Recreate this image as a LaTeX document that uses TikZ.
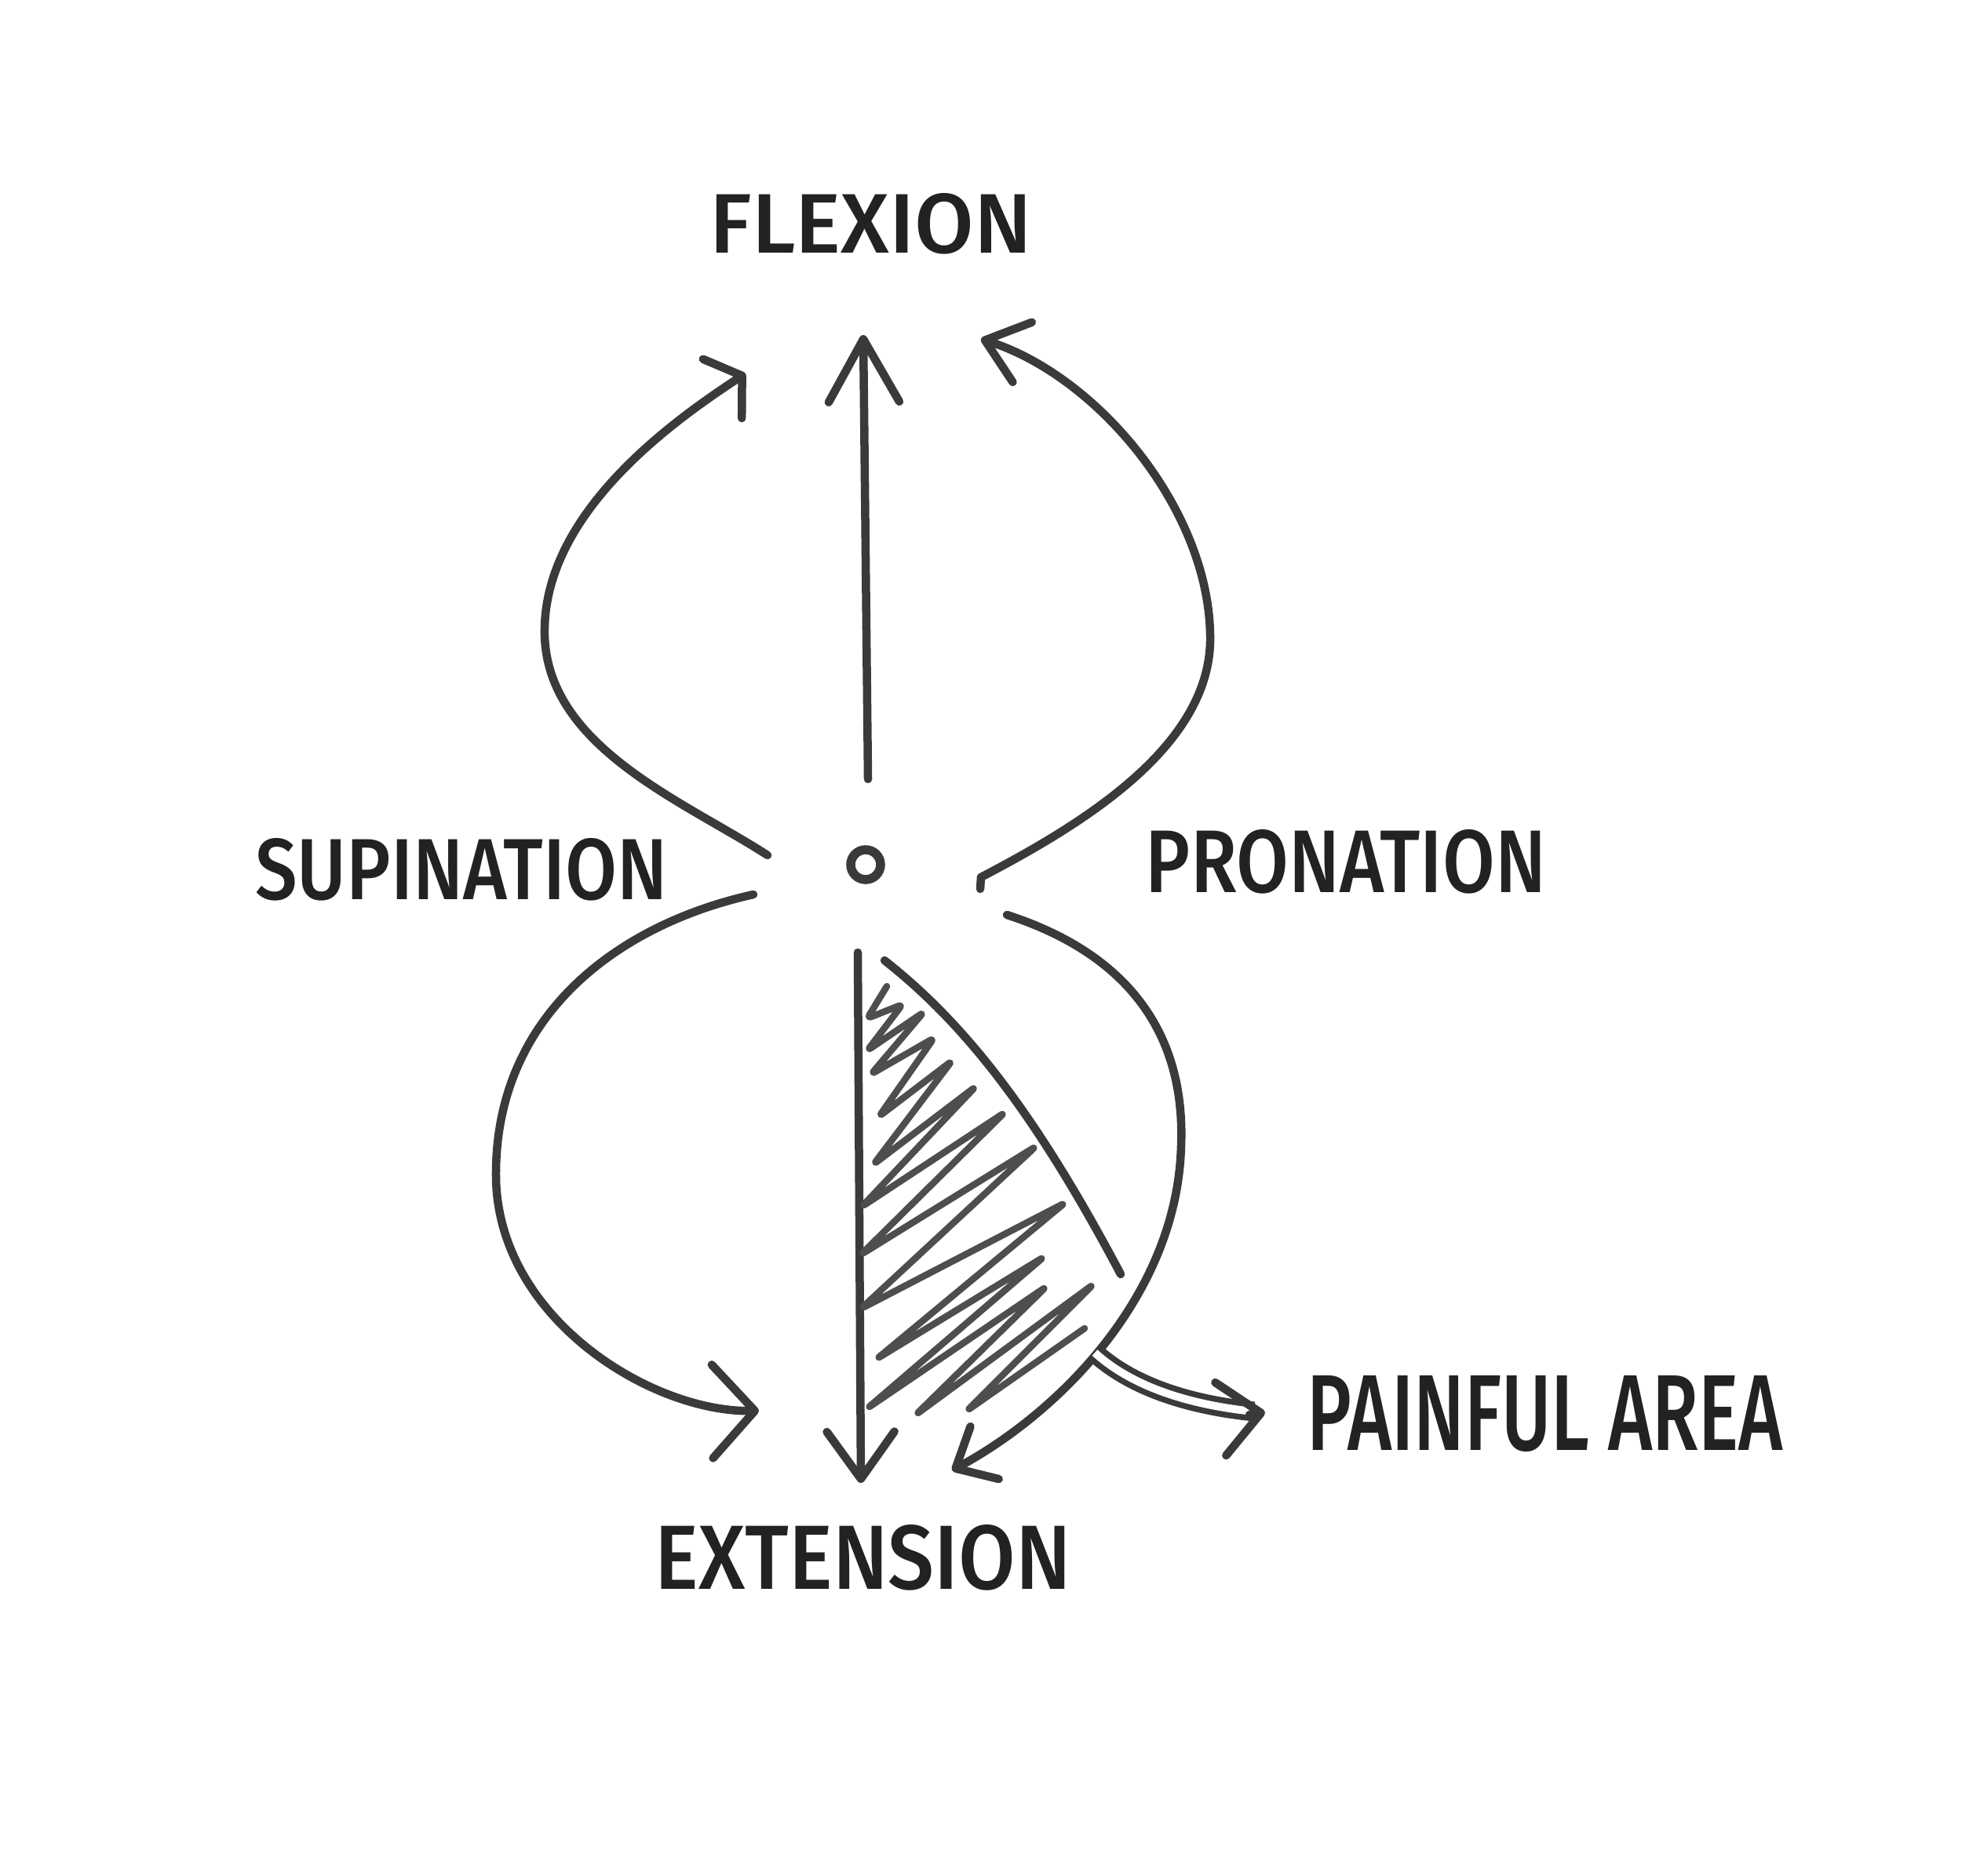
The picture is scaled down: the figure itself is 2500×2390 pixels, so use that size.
\documentclass[tikz,border=0pt]{standalone}
\usepackage{fontspec}
\setmainfont{Fira Sans}[UprightFont=* Medium, BoldFont=* Bold]
\usetikzlibrary{arrows.meta}
\definecolor{ink}{HTML}{3A3A3A}
\definecolor{txt}{HTML}{222222}
\definecolor{hatchc}{HTML}{4E4E4E}
\begin{document}
\begin{tikzpicture}[x=0.01cm,y=-0.01cm,
  pen/.style={draw=ink, line width=0.105cm, line cap=round, line join=round},
  hatchpen/.style={draw=hatchc, line width=0.085cm, line cap=round, line join=round, rounded corners=0.06cm},
  lbl/.style={text=txt, inner sep=0pt, anchor=center},
  barb/.style n args={2}{-{Straight Barb[length=#1, width=#2, round]}}
]
\fill[white] (0,0) rectangle (2500,2390);
\useasboundingbox (0,0) rectangle (2500,2390);

% labels
\node[lbl] (flex) at (1110,285) {\resizebox{4.1cm}{0.76cm}{FLEXION}};
\node[lbl] (sup)  at (588,1108) {\resizebox{5.25cm}{0.78cm}{SUPINATION}};
\node[lbl] (pro)  at (1715,1098) {\resizebox{5.1cm}{0.80cm}{PRONATION}};
\node[lbl] (ext)  at (1100,1985) {\resizebox{5.3cm}{0.82cm}{EXTENSION}};
\node[lbl] (pain) at (1969,1802) {\resizebox{6.06cm}{0.95cm}{PAINFUL AREA}};

% centre
\node[draw=ink, line width=0.115cm, circle, minimum size=0.38cm, inner sep=0pt] (c) at (1103,1102) {};

% end points
\coordinate (upS) at (1106,993);  \coordinate (upT) at (1100,427);
\coordinate (dnS) at (1093,1214); \coordinate (dnT) at (1097,1890);
\coordinate (ulS) at (978,1090);  \coordinate (ulT) at (950,476);
\coordinate (urS) at (1249,1133); \coordinate (urT) at (1250,432);
\coordinate (llS) at (960,1140);  \coordinate (llT) at (967,1798);
\coordinate (lrS) at (1283,1166); \coordinate (lrT) at (1213,1874);
\coordinate (trA) at (1127,1224); \coordinate (trB) at (1428,1624);
\coordinate (dbS) at (1395,1724); \coordinate (dbE) at (1598,1799);
\coordinate (dbA) at (1592,1803); \coordinate (dbT) at (1612,1800);

% straight arrows
\draw[pen, barb={0.8cm}{0.9cm}] (upS) -- (upT);
\draw[pen, barb={0.6cm}{0.86cm}] (dnS) -- (dnT);

% curved arrows
\draw[pen, barb={0.3cm}{0.9cm}] (ulS) .. controls (870,1020) and (690,950) .. (694,800)
      .. controls (697,650) and (860,535) .. (ulT);
\draw[pen, barb={0.5cm}{0.8cm}] (urS) -- (1250,1118) .. controls (1380,1050) and (1545,950) .. (1542,810)
      .. controls (1540,650) and (1400,480) .. (urT);
\draw[pen, barb={0.54cm}{1.19cm}] (llS) .. controls (780,1180) and (630,1300) .. (632,1500)
      .. controls (634,1680) and (830,1800) .. (llT);
\draw[pen, barb={0.42cm}{0.76cm}] (lrS) .. controls (1450,1220) and (1510,1330) .. (1505,1460)
      .. controls (1500,1650) and (1350,1800) .. (lrT);

% triangle edge
\draw[pen] (trA) .. controls (1230,1305) and (1320,1420) .. (trB);

% hatching
\draw[hatchpen] (1130,1257) -- (1105,1298) -- (1150,1280) -- (1105,1339) -- (1177,1290)
  -- (1110,1369) -- (1190,1323) -- (1120,1423) -- (1213,1352) -- (1113,1484)
  -- (1243,1385) -- (1098,1538) -- (1280,1418) -- (1097,1599) -- (1320,1461)
  -- (1097,1668) -- (1357,1533) -- (1117,1732) -- (1330,1602) -- (1105,1795)
  -- (1333,1640) -- (1167,1803) -- (1393,1637) -- (1232,1798) -- (1382,1693);

% double arrow to painful area
\draw[draw=ink, line width=0.075cm, double=white, double distance=0.1cm, line cap=butt]
  (dbS) .. controls (1440,1765) and (1510,1790) .. (dbE);
\draw[pen, barb={0.52cm}{0.94cm}] (dbA) -- (dbT);
\end{tikzpicture}
\end{document}
